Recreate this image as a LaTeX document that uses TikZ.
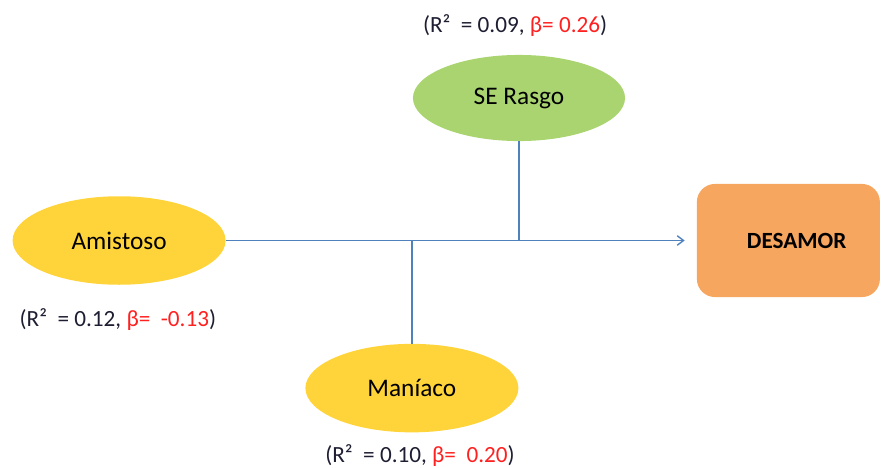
\documentclass[tikz,border=0pt]{standalone}
\usepackage{fontspec}
\setmainfont{Carlito}
\usetikzlibrary{arrows.meta,shapes.geometric}

\definecolor{linieblau}{HTML}{4F81BD}
\definecolor{gruen}{HTML}{A9D46F}
\definecolor{gelb}{HTML}{FFD43A}
\definecolor{orange}{HTML}{F7A65F}
\definecolor{rot}{HTML}{FF2020}
\definecolor{dunkel}{HTML}{1E1E32}

\tikzset{
  oval/.style={ellipse, inner sep=0pt, minimum width=7.1cm, minimum height=2.95cm,
               font=\fontsize{24}{28}\selectfont},
  werte/.style={font=\fontsize{22}{26}\selectfont, text=dunkel, inner sep=0pt},
  pfad/.style={draw=linieblau, line width=1.3pt}
}

\begin{document}
\begin{tikzpicture}
  \useasboundingbox (0,0) rectangle (29.367,15.567);

  % Knoten
  \node[oval, fill=gruen, minimum width=7.07cm, minimum height=2.87cm] (serasgo) at (17.3,12.3) {SE Rasgo};
  \node[oval, fill=gelb] (amistoso) at (3.97,7.55) {Amistoso};
  \node[oval, fill=gelb] (maniaco) at (13.73,2.63) {Maníaco};
  \node[draw=none, fill=orange, rounded corners=0.6cm, minimum width=6.1cm, minimum height=3.77cm,
        font=\fontsize{22}{26}\selectfont\bfseries] (desamor) at (26.28,7.55) {\hspace*{0.55cm}DESAMOR};

  % Werte
  \node[werte] (wserasgo) at (17.17,14.73) {(R²\ \ = 0.09, \textcolor{rot}{β= 0.26})};
  \node[werte] (wamistoso) at (3.93,4.9) {(R²\ \ = 0.12, \textcolor{rot}{β=\ \ -0.13})};
  \node[werte] (wmaniaco) at (14.0,0.38) {(R²\ \ = 0.10, \textcolor{rot}{β=\ \ 0.20})};

  % Pfade
  \draw[pfad, -{Straight Barb[length=6pt,width=9pt]}, shorten >=0.4cm] (amistoso.east) -- (desamor.west);
  \draw[pfad] (serasgo.south) -- (serasgo.south |- amistoso.east);
  \draw[pfad] (maniaco.north) -- (maniaco.north |- amistoso.east);

\end{tikzpicture}
\end{document}
